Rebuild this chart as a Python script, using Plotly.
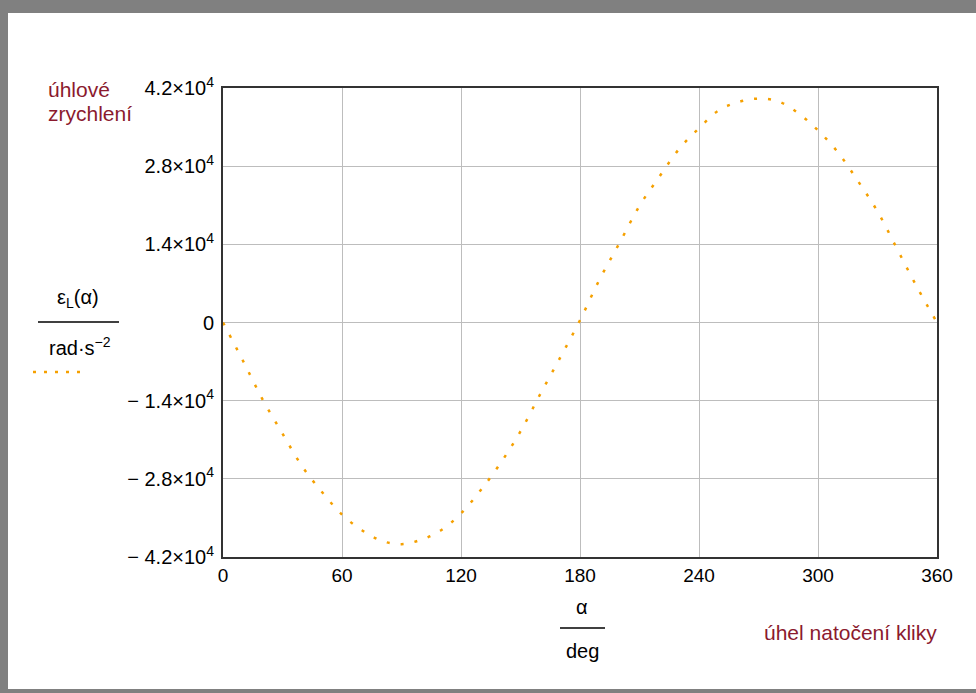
import plotly.graph_objects as go

# ---- data ----
alpha_deg = [0, 10, 20, 30, 40, 50, 60, 70, 80, 90, 100, 110, 120, 130, 140, 150, 160, 170, 180,
             190, 200, 210, 220, 230, 240, 250, 260, 270, 280, 290, 300, 310, 320, 330, 340, 350, 360]
eps_L = [0, -6800, -13800, -19900, -25800, -30400, -34400, -37200, -39100, -39700, -38900, -37200,
         -34200, -30000, -25150, -19500, -12800, -6300, 400,
         7800, 14300, 20900, 26100, 31100, 34800, 38000, 39500, 40100, 39600, 37500, 34400, 30500,
         25400, 19900, 13100, 6300, 0]

x_ticks = [0, 60, 120, 180, 240, 300, 360]
x_ticktext = ["0", "60", "120", "180", "240", "300", "360"]
y_ticks = [-42000, -28000, -14000, 0, 14000, 28000, 42000]
y_ticktext = ["\u2212 4.2\u00d710<sup>4</sup>", "\u2212 2.8\u00d710<sup>4</sup>", "\u2212 1.4\u00d710<sup>4</sup>", "0",
              "1.4\u00d710<sup>4</sup>", "2.8\u00d710<sup>4</sup>", "4.2\u00d710<sup>4</sup>"]

# ---- layout geometry (pixels) ----
W, H = 976, 693
L, R, T, B = 223, 937, 88, 557
PW, PH = R - L, B - T


def px(x):
    return (x - L) / PW


def py(y):
    return (B - y) / PH


FONT = "Liberation Sans, Arial, sans-serif"
MAROON = "#8b1a2e"
ORANGE = "#f5a000"

fig = go.Figure()
fig.add_trace(go.Scatter(
    x=alpha_deg, y=eps_L, mode="lines",
    line=dict(color=ORANGE, width=2.5, dash="3px,11px", shape="spline", smoothing=1.0),
    showlegend=False, hoverinfo="skip"))

fig.update_layout(
    width=W, height=H,
    margin=dict(l=L, r=W - R, t=T, b=H - B),
    paper_bgcolor="white", plot_bgcolor="white",
    font=dict(family=FONT, size=20, color="black"),
    showlegend=False,
    xaxis=dict(range=[0, 360], tickvals=x_ticks, ticktext=x_ticktext,
               showgrid=True, gridcolor="#bdbdbd", gridwidth=1, zeroline=False,
               showline=True, linecolor="#333333", linewidth=2, mirror=True,
               ticks="", tickfont=dict(size=19, family=FONT)),
    yaxis=dict(range=[-42000, 42000], tickvals=y_ticks, ticktext=y_ticktext,
               showgrid=True, gridcolor="#bdbdbd", gridwidth=1, zeroline=False,
               showline=True, linecolor="#333333", linewidth=2, mirror=True,
               ticks="", ticklabelstandoff=3, tickfont=dict(size=20, family=FONT)),
)

ann = [
    dict(text="úhlové", x=px(46), y=py(89), xanchor="left", yanchor="middle", font=dict(color=MAROON, size=21)),
    dict(text="zrychlení", x=px(46), y=py(113), xanchor="left", yanchor="middle", font=dict(color=MAROON, size=21)),
    dict(text="\u03b5<sub>L</sub>(\u03b1)", x=px(78), y=py(298), xanchor="center", yanchor="middle", font=dict(size=20)),
    dict(text="rad\u00b7s<sup>\u22122</sup>", x=px(80), y=py(346), xanchor="center", yanchor="middle", font=dict(size=20)),
    dict(text="\u03b1", x=px(582), y=py(607), xanchor="center", yanchor="middle", font=dict(size=20)),
    dict(text="deg", x=px(582), y=py(651), xanchor="center", yanchor="middle", font=dict(size=20)),
    dict(text="úhel natočení kliky", x=px(850), y=py(632), xanchor="center", yanchor="middle",
         font=dict(color=MAROON, size=21)),
]
for a in ann:
    a.update(xref="paper", yref="paper", showarrow=False)
    fig.add_annotation(**a)

shapes = [
    # fraction lines
    dict(type="line", x0=px(38), x1=px(119), y0=py(322), y1=py(322), line=dict(color="black", width=1.5)),
    dict(type="line", x0=px(560), x1=px(605), y0=py(628), y1=py(628), line=dict(color="black", width=1.5)),
    # legend sample
    dict(type="line", x0=px(33), x1=px(88), y0=py(372), y1=py(372), line=dict(color=ORANGE, width=2.5, dash="3px,8px")),
    # grey frame of the picture
    dict(type="rect", x0=px(0), x1=px(W), y0=py(0), y1=py(13), fillcolor="#808080", line=dict(width=0)),
    dict(type="rect", x0=px(0), x1=px(8), y0=py(0), y1=py(H), fillcolor="#808080", line=dict(width=0)),
    dict(type="rect", x0=px(0), x1=px(W), y0=py(689), y1=py(H), fillcolor="#808080", line=dict(width=0)),
]
for s in shapes:
    s.update(xref="paper", yref="paper")
    fig.add_shape(**s)

fig.write_html("out.html", config={"displayModeBar": False},
               post_script="document.body.style.margin='0';document.body.style.overflow='hidden';")
